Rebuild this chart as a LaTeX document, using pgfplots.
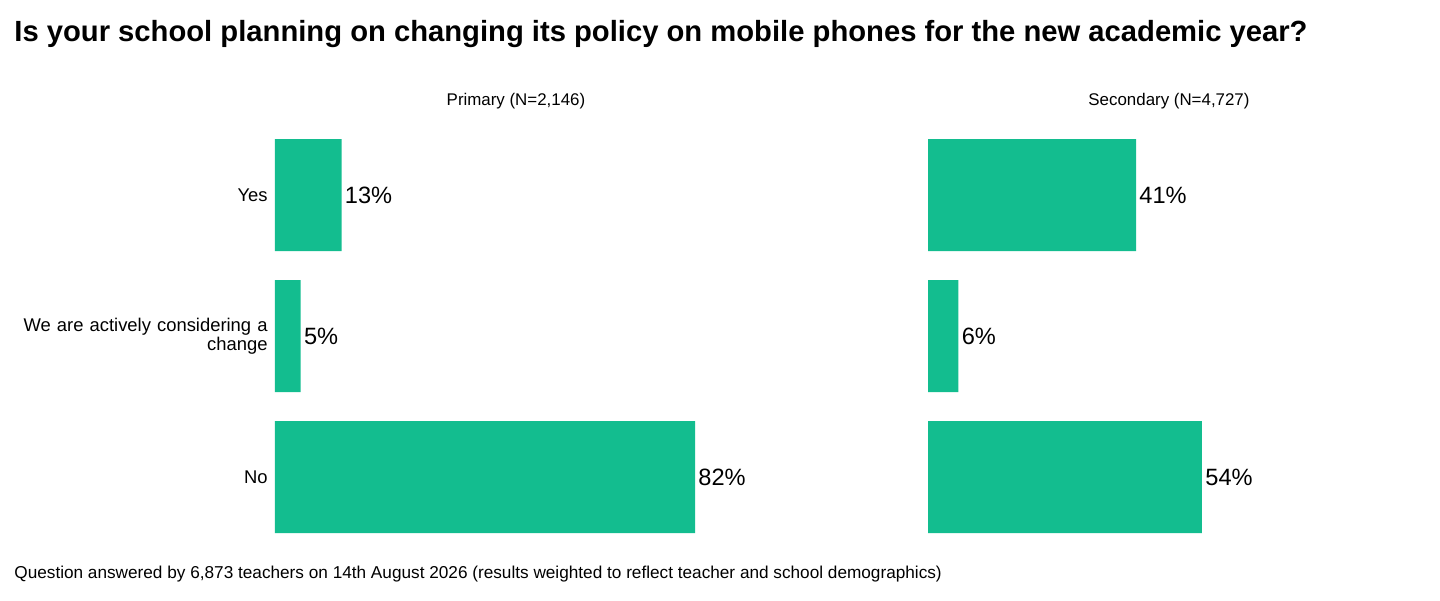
\documentclass[border=0pt]{standalone}
\usepackage{pgfplots}
\pgfplotsset{compat=1.18}
\usepackage{fontspec}
\setmainfont{Liberation Sans}
\definecolor{bargreen}{HTML}{13BD8F}
\pgfplotsset{
  panel/.style={
    scale only axis, width=241pt, height=211.5pt, anchor=north west,
    xmin=0, xmax=95, ymin=-0.5, ymax=2.5, y dir=reverse,
    xbar, bar width=56pt, bar shift=0pt,
    axis line style={draw=none}, xtick=\empty, ytick={0,1,2},
    major tick length=0pt, tick style={draw=none},
    /pgf/number format/assume math mode=true,
    nodes near coords={\pgfmathprintnumber[assume math mode=true]{\pgfplotspointmeta}\%},
    nodes near coords style={font=\fontsize{11.8}{14}\selectfont, text=black, anchor=west, inner sep=1.5pt},
    point meta=explicit,
    clip=false,
    title style={font=\fontsize{8.45}{10}\selectfont, yshift=-2pt},
  }
}
\begin{document}
\begin{tikzpicture}
\path (0,0) rectangle (720pt,-300pt);
\node[anchor=base west, font=\bfseries\fontsize{14.6}{17}\selectfont, inner sep=0pt] at (7pt,-20.5pt) {Is your school planning on changing its policy on mobile phones for the new academic year?};
\begin{axis}[panel, xmax=94.1, at={(137.5pt,-62.25pt)}, title={Primary (N=2,146)},
  yticklabels={Yes, {We are actively considering a\\change}, No},
  yticklabel style={font=\fontsize{9.2}{9.6}\selectfont, text width=128pt, align=right, inner sep=0pt, xshift=-3.5pt}]
\addplot[fill=bargreen, draw=none] coordinates {(13,0) [13] (5,1) [5] (82,2) [82]};
\end{axis}
\begin{axis}[panel, at={(464pt,-62.25pt)}, title={Secondary (N=4,727)}, yticklabels={,,}]
\addplot[fill=bargreen, draw=none] coordinates {(41,0) [41] (6,1) [6] (54,2) [54]};
\end{axis}
\node[anchor=base west, font=\fontsize{8.6}{10}\selectfont, inner sep=0pt] at (7pt,-289pt) {Question answered by 6,873 teachers on 14th August 2026 (results weighted to reflect teacher and school demographics)};
\end{tikzpicture}
\end{document}
